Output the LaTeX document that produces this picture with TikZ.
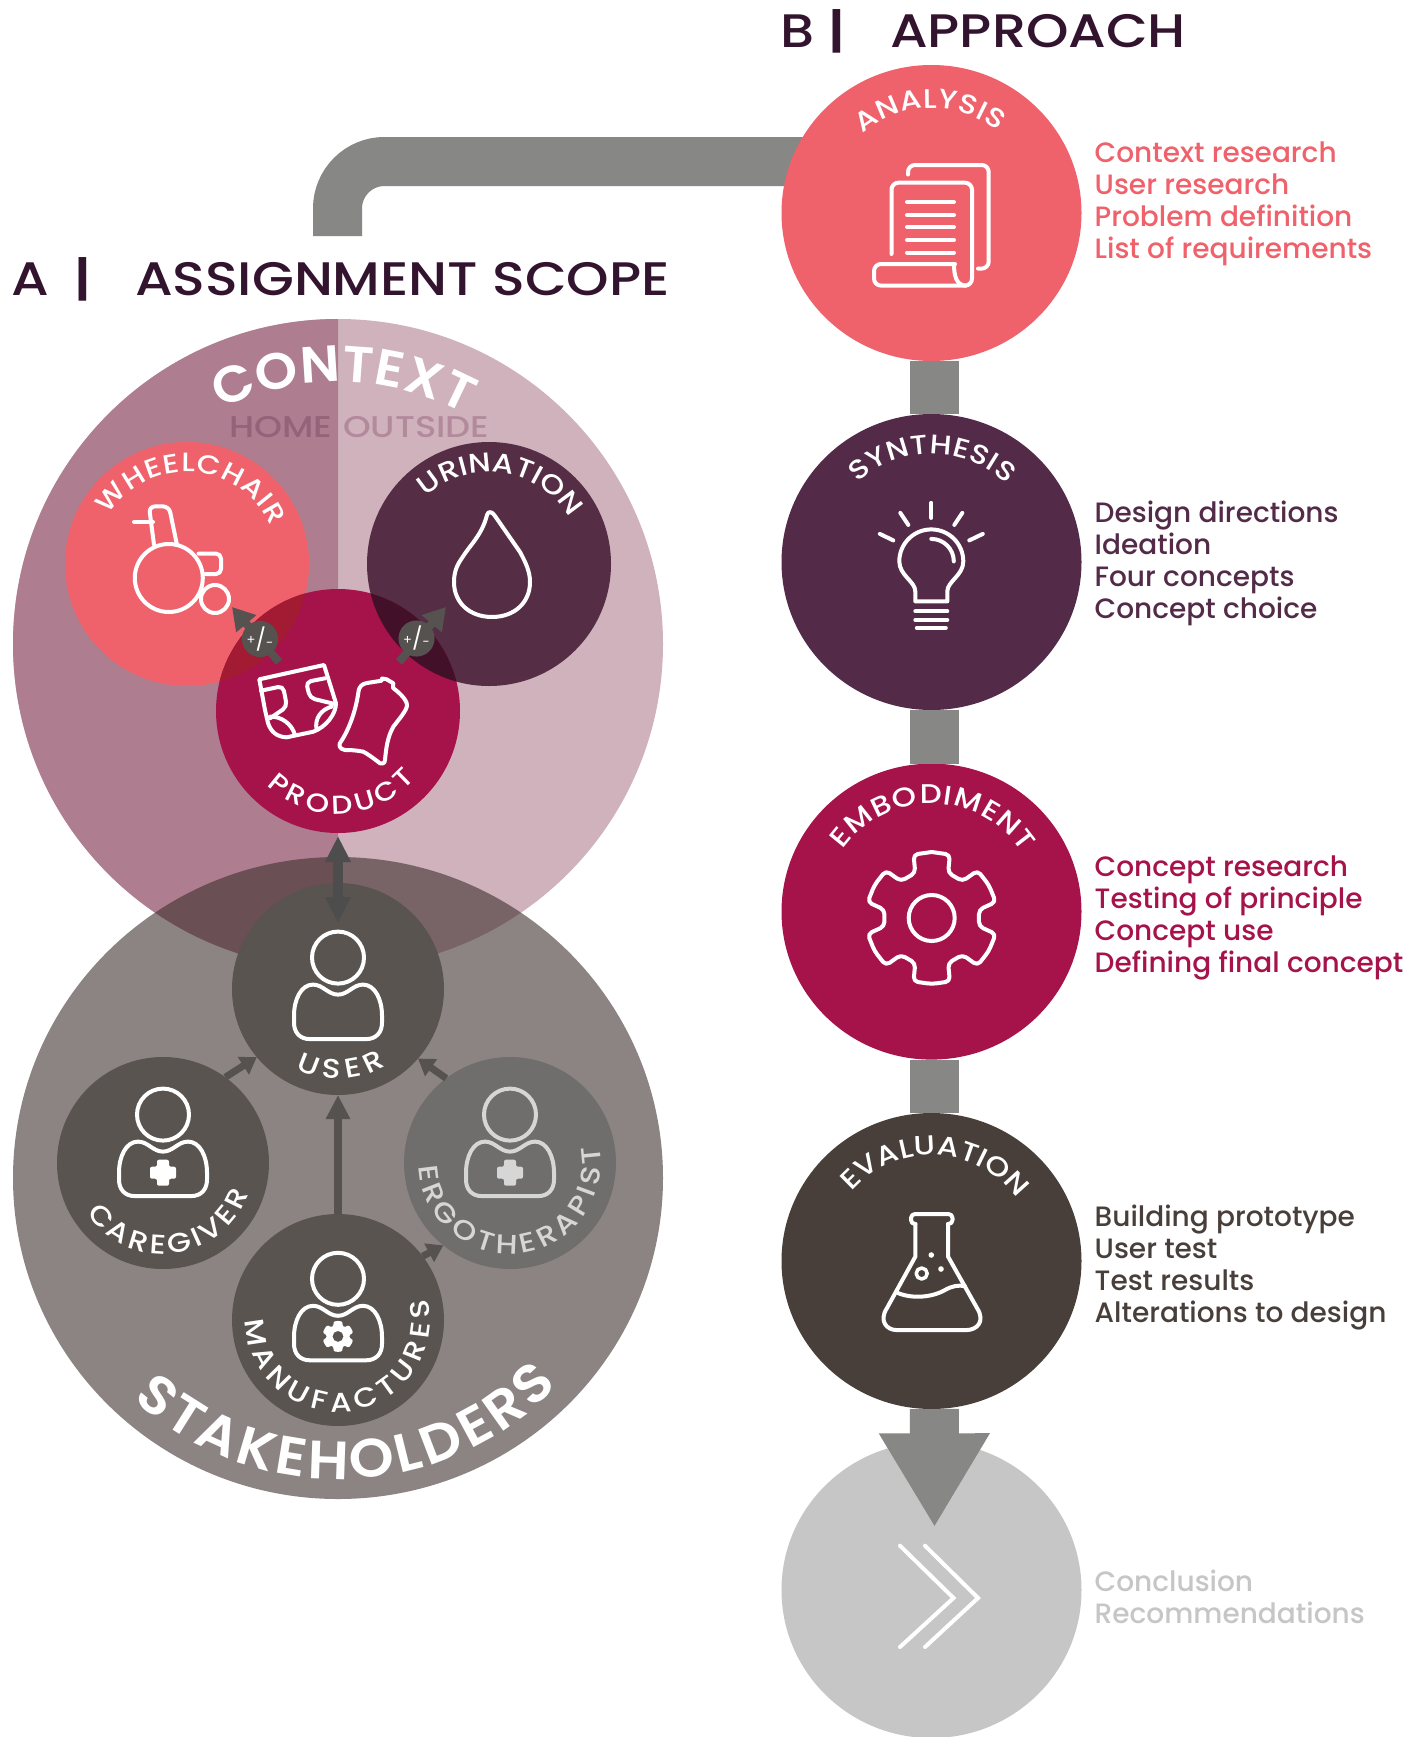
\documentclass[tikz,border=0pt]{standalone}
\usepackage{fontspec}
\setmainfont{Poppins}
\newfontfamily\med[UprightFont=* Medium,BoldFont=* SemiBold]{Poppins}
\newfontfamily\wide[UprightFont=* Medium,BoldFont=* SemiBold,FakeStretch=1.15]{Poppins}
\newfontfamily\cwide[UprightFont=* Medium,BoldFont=* SemiBold,FakeStretch=1.06]{Poppins}
\usetikzlibrary{arrows.meta,decorations.text,shapes.geometric}
\definecolor{cAna}{HTML}{EF626C}
\definecolor{cSyn}{HTML}{532B48}
\definecolor{cUri}{HTML}{552E46}
\definecolor{cEmb}{HTML}{A6134B}
\definecolor{cEva}{HTML}{483F3B}
\definecolor{cEnd}{HTML}{C6C6C6}
\definecolor{cBar}{HTML}{878786}
\definecolor{cHead}{HTML}{33142E}
\definecolor{cCtxL}{HTML}{AE7D8F}
\definecolor{cCtxR}{HTML}{D0B2BD}
\definecolor{cStk}{HTML}{3C2F2B}
\definecolor{cPer}{HTML}{59544F}
\definecolor{cErg}{HTML}{6F6E6C}
\definecolor{cErgT}{HTML}{D6D6D6}
\definecolor{cArr}{HTML}{555250}
\definecolor{cDbl}{HTML}{4D4D4D}
\definecolor{cHome}{HTML}{94637A}
\definecolor{cOut}{HTML}{B28A9C}
\definecolor{cOvA}{HTML}{A31A33}
\definecolor{cOvB}{HTML}{43102A}
\tikzset{
  x=1pt,y=1pt,
  disc/.style={circle,draw=none,inner sep=0pt,outer sep=0pt,minimum size=#1},
  stage/.style={ellipse,draw=none,inner sep=0pt,outer sep=0pt,minimum width=300pt,minimum height=296pt},
  bar/.style={draw=cBar,line width=49pt},
  icon/.style={draw=white,line width=4pt,line cap=round,line join=round},
  conns/.style={draw=cArr,line width=7pt,-{Triangle[width=20pt,length=16pt]}},
  dconn/.style={draw=cDbl,line width=10pt,{Triangle[width=24pt,length=26pt]}-{Triangle[width=24pt,length=26pt]}},
  bconn/.style={draw=cArr,line width=8pt,-{Triangle[width=23pt,length=24pt]}},
  listline/.style={anchor=base west,inner sep=0pt,outer sep=0pt,font=\fontsize{28pt}{32pt}\selectfont\med},
  headline/.style={anchor=base west,inner sep=0pt,outer sep=0pt,text=cHead,font=\fontsize{47pt}{50pt}\selectfont\wide},
  pmbadge/.style={disc=32pt,fill=cArr,text=white},
}
\newcommand{\arclabel}[7]{%
  \path[decorate,decoration={text along path,text align={fit to path},
    text={|\fontsize{#5pt}{#5pt}\selectfont\wide\color{#6}|#7}}]
    (#1) ++(#3:#2) arc (#3:#4:#2);}
\newcommand{\arcbold}[7]{%
  \path[decorate,decoration={text along path,text align={fit to path},
    text={|\fontsize{#5pt}{#5pt}\selectfont\cwide\bfseries\color{#6}|#7}}]
    (#1) ++(#3:#2) arc (#3:#4:#2);}
\newcommand{\fourlines}[7]{%
  \node[listline,text=#3] (#1a) at (1094.7,-#2) {#4};
  \node[listline,text=#3] (#1b) at (1094.7,-#2-32) {#5};
  \node[listline,text=#3] (#1c) at (1094.7,-#2-64) {#6};
  \node[listline,text=#3] (#1d) at (1094.7,-#2-96) {#7};}
\newcommand{\person}[3]{%
  \begin{scope}[shift={(#1,-#2)}]
    \draw[icon,draw=#3] (0,0) circle (26);
    \draw[icon,draw=#3] (0,-37) .. controls (-10,-37) and (-15,-27) .. (-25,-27)
      .. controls (-37,-27) and (-44,-42) .. (-44,-58) -- (-44,-65)
      .. controls (-44,-75) and (-38,-81.5) .. (-28,-81.5) -- (28,-81.5)
      .. controls (38,-81.5) and (44,-75) .. (44,-65) -- (44,-58)
      .. controls (44,-42) and (37,-27) .. (25,-27)
      .. controls (15,-27) and (10,-37) .. (0,-37) -- cycle;
  \end{scope}}
\newcommand{\medcross}[3]{%
  \fill[#3,rounded corners=2pt,shift={(#1,-#2)}] (-6,13) -- (6,13) -- (6,6) -- (13,6) -- (13,-6) -- (6,-6) -- (6,-13) -- (-6,-13) -- (-6,-6) -- (-13,-6) -- (-13,6) -- (-6,6) -- cycle;}
\newcommand{\plusminus}{\raisebox{.35ex}{\fontsize{13pt}{13pt}\selectfont+}\raisebox{-.15ex}{\fontsize{22pt}{22pt}\selectfont/}\raisebox{-.1ex}{\fontsize{13pt}{13pt}\selectfont-}}
\begin{document}
\begin{tikzpicture}
\clip (0,0) rectangle (1427,-1737);
\fill[white] (0,0) rectangle (1427,-1737);

\coordinate (barstart) at (337.5,-236);
\coordinate (barend) at (830,-161.5);
\coordinate (arrowtip) at (934.5,-1527.3);

% ---------- A: context
\node[disc=650pt,fill=cCtxR] (context) at (338,-644) {};
\fill[cCtxL] (context.north) arc (90:270:325) -- cycle;
\arcbold{context.center}{262}{116.5}{61}{51}{white}{CONTEXT}
\node[anchor=base west,inner sep=0pt,text=cHome,font=\fontsize{30pt}{30pt}\selectfont\med] (home) at (229,-437.5) {\resizebox{103pt}{\height}{HOME}};
\node[anchor=base west,inner sep=0pt,text=cOut,font=\fontsize{30pt}{30pt}\selectfont\med] (outside) at (343,-437.5) {\resizebox{146pt}{\height}{OUTSIDE}};

\node[disc=244pt,fill=cAna] (wheelchair) at (187,-564) {};
\node[disc=244pt,fill=cUri] (urination) at (489,-564) {};
\node[disc=244pt,fill=cEmb] (product) at (338,-711) {};
\begin{scope}
  \clip (product.center) circle (122);
  \fill[fill=cOvA] (wheelchair.center) circle (122);
  \fill[fill=cOvB] (urination.center) circle (122);
\end{scope}
\arclabel{wheelchair.center}{92}{148}{24}{26.5}{white}{WHEELCHAIR}
\arclabel{urination.center}{92}{133}{31}{27}{white}{URINATION}
\arclabel{product.center}{103}{226}{319}{26}{white}{PRODUCT}

% wheelchair icon
\draw[icon] (168.8,-578) circle (34);
\draw[icon] (215,-599) circle (14);
\draw[icon] (134,-522) -- (153,-522);
\draw[icon,rounded corners=6pt] (154,-544.6) -- (149,-506.4) -- (169,-506.4) -- (177,-545);
\draw[icon,rounded corners=5pt] (198.6,-553.6) -- (221,-553.6) -- (221,-574) -- (205,-574);
% drop icon
\draw[icon] (487,-515) .. controls (482,-535) and (470,-545) .. (462,-558)
  .. controls (457,-565) and (454,-572) .. (454,-582)
  .. controls (454,-603) and (470,-617) .. (492,-617)
  .. controls (514,-617) and (530,-603) .. (530,-582)
  .. controls (530,-572) and (526,-563) .. (520,-552)
  -- (495,-516) .. controls (492,-511) and (488,-511) .. (487,-515) -- cycle;
% diaper icon
\draw[icon] (259.3,-679.3) -- (324,-665) -- (336,-703.3)
   .. controls (336,-714) and (326,-727) .. (313.3,-731.7) -- (286.7,-737.3)
   .. controls (277,-737) and (271,-732) .. (268,-723) -- (265,-710) -- cycle;
\draw[icon,rounded corners=5pt] (261,-690.7) -- (283,-686) -- (287,-706.7) -- (270,-718.3);
\draw[icon,rounded corners=5pt] (325,-678.3) -- (306,-682) -- (310,-698) -- (336,-704.3);
\draw[icon] (270,-716.7) .. controls (281,-716) and (292,-724) .. (295,-735);
\draw[icon] (331.7,-706.7) .. controls (322,-709) and (314,-718) .. (316.7,-730);
% bag icon
\draw[icon] (358.3,-693) .. controls (359,-686) and (362,-684) .. (367,-683) -- (381.7,-680.7) -- (382,-678.5) -- (386.7,-679.3) -- (393.3,-683.3) -- (393,-688) .. controls (396,-690) and (407,-699) .. (407,-705) .. controls (407,-710) and (400,-718) .. (393.3,-726.7) .. controls (387,-738) and (386,-750) .. (385,-760) .. controls (385,-764) and (381,-764) .. (380,-763.3) .. controls (372,-757) and (366,-753) .. (363.3,-751.7) .. controls (355,-750) and (348,-750) .. (345,-750) .. controls (339,-749) and (339,-745) .. (340,-743) .. controls (347,-733) and (355,-715) .. (358.3,-693) -- cycle;

% plus / minus arrows
\coordinate (pmA) at (279,-662);
\coordinate (pmB) at (232,-607);
\coordinate (pmC) at (399,-662);
\coordinate (pmD) at (446,-607);
\draw[conns,line width=8pt,-{Triangle[width=25pt,length=22pt]}] (pmA) -- (pmB);
\draw[conns,line width=8pt,-{Triangle[width=25pt,length=22pt]}] (pmC) -- (pmD);
\node[pmbadge] (pmleft) at (260,-639) {\plusminus};
\node[pmbadge] (pmright) at (416.5,-638.5) {\plusminus};

% ---------- A: stakeholders
\node[ellipse,draw=none,inner sep=0pt,outer sep=0pt,minimum width=650pt,minimum height=642pt,fill=cStk,fill opacity=.59] (stake) at (338,-1178) {};
\node[disc=212pt,fill=cPer] (user) at (338,-989) {};
\node[disc=212pt,fill=cPer] (caregiver) at (163,-1163) {};
\node[disc=212pt,fill=cErg] (ergo) at (510,-1163) {};
\node[disc=212pt,fill=cPer] (manu) at (338,-1320) {};
\coordinate (stakec) at (338.5,-1174);
\arcbold{stakec}{305}{227.5}{316}{54}{white}{STAKEHOLDERS}
\arclabel{user.center}{90}{242}{302}{27}{white}{USER}
\arclabel{caregiver.center}{91}{213}{340}{27}{white}{CAREGIVER}
\arclabel{ergo.center}{91}{182}{371}{27}{cErgT}{ERGOTHERAPIST}
\arclabel{manu.center}{92}{180}{373}{27}{white}{MANUFACTURES}
\person{338}{957.6}{white}
\person{163}{1114.6}{white}
\medcross{163}{1172.7}{white}
\person{510}{1114.6}{cErgT}
\medcross{510}{1172.7}{cErgT}
\person{338}{1278.8}{white}
\begin{scope}[shift={(338,-1336.4)}]
  \fill[white,even odd rule,rounded corners=1pt] (90:15.5) \foreach \t in {90,150,210,270,330,390} { -- ({\t+16}:15.5) -- ({\t+24}:11.5) -- ({\t+36}:11.5) -- ({\t+44}:15.5) -- ({\t+60}:15.5) } (0,0) circle (5.5);
\end{scope}

\draw[dconn] (338,-836) -- (338,-923);
\draw[conns] (caregiver.54) -- (user.220);
\draw[conns] (ergo.127) -- (user.-41);
\draw[bconn] (manu.north) -- (user.south);
\draw[conns] (manu.37.5) -- (ergo.231);

% ---------- B: approach
\draw[bar,rounded corners=47pt] (barstart) |- (barend);
\node[stage,fill=cEnd] (conclusion) at (931.5,-1590) {};
\node[stage,fill=cAna] (analysis) at (931.5,-213) {};
\node[stage,fill=cSyn] (synthesis) at (931.5,-562) {};
\node[stage,fill=cEmb] (embodiment) at (931.5,-911.6) {};
\draw[bar] ([xshift=2.8pt]analysis.south) -- ([xshift=2.8pt]synthesis.north);
\draw[bar] ([xshift=2.8pt]synthesis.south) -- ([xshift=2.8pt]embodiment.north);
\node[stage,fill=cEva] (evaluation) at (931.5,-1261) {};
\draw[bar] ([xshift=2.8pt]embodiment.south) -- ([xshift=2.8pt]evaluation.north);
\draw[bar,-{Triangle[width=104pt,length=94pt]}] ([xshift=2.8pt]evaluation.south) -- (arrowtip);

\arclabel{analysis.center}{105}{131}{51}{27}{white}{ANALYSIS}
\arclabel{synthesis.center}{108}{133}{46}{27}{white}{SYNTHESIS}
\arclabel{embodiment.center}{108}{145}{33}{27}{white}{EMBODIMENT}
\arclabel{evaluation.center}{106}{139}{36}{27}{white}{EVALUATION}

% document icon
\draw[icon,rounded corners=7pt] (908,-174.5) -- (908,-165) -- (988.7,-165) -- (988.7,-268.6) -- (978,-268.6);
\draw[icon,rounded corners=7pt] (891.5,-254) -- (891.5,-182.7) -- (972,-182.7) -- (972,-285.6) -- (874,-285.6) -- (874,-264) -- (955,-264);
\draw[icon] (954,-264) .. controls (954,-275) and (956,-285.6) .. (966,-285.6);
\foreach \yy in {202,215,227,240,252.5} \draw[icon] (907,-\yy) -- (954,-\yy);
% bulb icon
\begin{scope}[shift={(931.3,-561.4)}]
  \draw[icon] (-16,-40) -- (-16,-30) .. controls (-16,-20) and (-32,-14) .. (-32,0)
     arc (180:0:32) .. controls (32,-14) and (16,-20) .. (16,-30) -- (16,-40) -- cycle;
  \draw[icon] (0,22.5) arc (90:0:22.5);
  \draw[icon] (-16,-50) -- (16,-50);
  \draw[icon] (-16,-58.5) -- (16,-58.5);
  \draw[icon] (-14.5,-66.5) -- (14.5,-66.5);
  \draw[icon] (0,43.5) -- (0,58.5);
  \draw[icon] (-23,36.5) -- (-31,48.5);
  \draw[icon] (23,36.5) -- (31,48.5);
  \draw[icon] (-38,21) -- (-51.5,27.5);
  \draw[icon] (38,21) -- (51.5,27.5);
\end{scope}
% gear icon
\begin{scope}[shift={(931.7,-918)}]
  \draw[icon,rounded corners=4.5pt] (90:66) \foreach \t in {90,150,210,270,330,390} { -- ({\t+16}:66) -- ({\t+20}:48) -- ({\t+40}:48) -- ({\t+44}:66) -- ({\t+60}:66) };
  \draw[icon] (0,0) circle (23);
\end{scope}
% flask icon
\draw[icon,rounded corners=4pt] (915.4,-1224) -- (911,-1224) -- (911,-1214) -- (952.5,-1214) -- (952.5,-1224) -- (948,-1224);
\draw[icon] (915.4,-1224) -- (915.4,-1256.5) -- (887,-1308) .. controls (878,-1322) and (888,-1330) .. (896,-1330)
  -- (967,-1330) .. controls (976,-1330) and (986,-1322) .. (977,-1308) -- (948,-1256.5) -- (948,-1224);
\draw[icon] (897.8,-1293) .. controls (915,-1300) and (935,-1296) .. (945,-1290) .. controls (952,-1286) and (958,-1285) .. (964.8,-1286);
\draw[icon,line width=3.5pt] (921.7,-1273.5) circle (5.5);
\fill[white] (931.3,-1255) circle (2.8);
\fill[white] (941,-1269) circle (2.8);
% chevrons
\draw[icon,line join=miter] (900,-1545.7) -- (953.5,-1598) -- (900,-1647);
\draw[icon,line join=miter] (925,-1545.7) -- (978,-1598) -- (925,-1647);

% ---------- lists
\fourlines{la}{162.6}{cAna}{Context research}{User research}{Problem definition}{List of requirements}
\fourlines{ls}{522.6}{cSyn}{Design directions}{Ideation}{Four concepts}{Concept choice}
\fourlines{le}{876.6}{cEmb}{Concept research}{Testing of principle}{Concept use}{Defining final concept}
\fourlines{lv}{1226}{cEva}{Building prototype}{User test}{Test results}{Alterations to design}
\node[listline,text=cEnd] (lca) at (1094.7,-1591) {Conclusion};
\node[listline,text=cEnd] (lcb) at (1094.7,-1623) {Recommendations};

% ---------- headings
\node[headline] (ha) at (12,-295) {A};
\node[headline] (hab) at (74,-295) {\bfseries|};
\node[headline] (hat) at (135,-295) {ASSIGNMENT SCOPE};
\node[headline] (hb) at (780,-48) {B};
\node[headline] (hbb) at (828,-48) {\bfseries|};
\node[headline] (hbt) at (890,-48) {APPROACH};
\end{tikzpicture}
\end{document}
